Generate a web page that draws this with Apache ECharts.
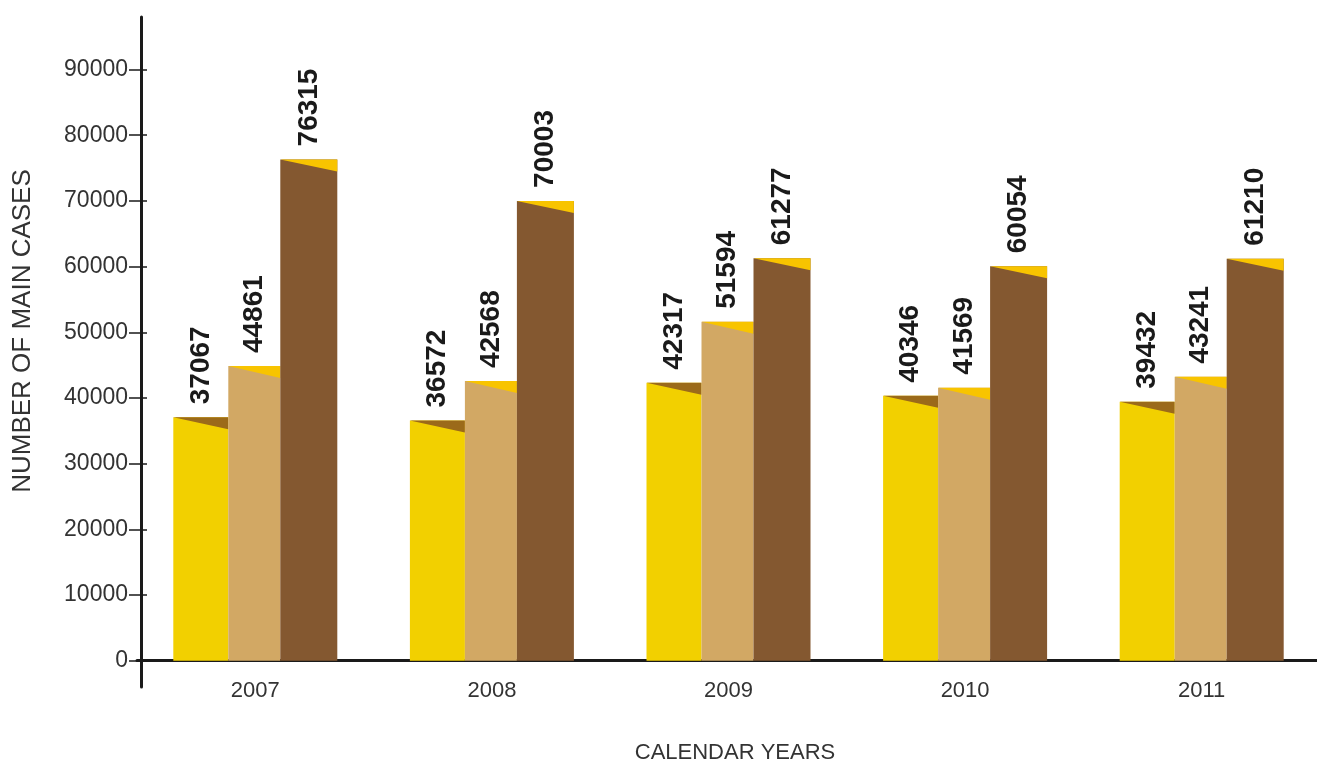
<!DOCTYPE html>
<html><head><meta charset="utf-8">
<script src="https://cdn.jsdelivr.net/npm/echarts@6/dist/echarts.min.js"></script>
<style>html,body{margin:0;padding:0;background:#fff}#c{width:1317px;height:763px}</style>
</head><body><div id="c"></div>
<script>
const years = ['2007', '2008', '2009', '2010', '2011'];
const seriesA = [37067, 36572, 42317, 40346, 39432];
const seriesB = [44861, 42568, 51594, 41569, 43241];
const seriesC = [76315, 70003, 61277, 60054, 61210];
const yTicks = [0, 10000, 20000, 30000, 40000, 50000, 60000, 70000, 80000, 90000];

const FONT = '"Liberation Sans", Arial, Helvetica, sans-serif';

function makeRender(x0, x1, body, accent) {
  return function (params, api) {
    const c = api.coord([api.value(0), api.value(1)]);
    const base = api.coord([api.value(0), 0]);
    const left = c[0] + x0, right = c[0] + x1, top = c[1];
    return {
      type: 'group',
      children: [
        { type: 'rect', shape: { x: left, y: top, width: right - left, height: base[1] - top }, style: { fill: body } },
        { type: 'polygon', shape: { points: [[left, top], [right, top], [right, top + 12]] }, style: { fill: accent } },
        { type: 'text', x: (left + right) / 2, y: top - 13, rotation: Math.PI / 2,
          style: { text: String(api.value(1)), font: 'bold 28px ' + FONT, fill: '#1a1a1a', align: 'left', verticalAlign: 'middle' } }
      ]
    };
  };
}
function toData(arr) { return arr.map((v, i) => [i, v]); }

const chart = echarts.init(document.getElementById('c'));
chart.setOption({
  animation: false,
  backgroundColor: '#ffffff',
  grid: { left: 137, right: -3, top: 17, bottom: 76, containLabel: false, outerBoundsMode: 'none' },
  xAxis: {
    type: 'category', data: years,
    axisLine: { onZero: true, lineStyle: { color: '#1a1a1a', width: 3 } },
    axisTick: { show: false },
    axisLabel: { fontSize: 22, fontFamily: FONT, color: '#333', margin: -7 },
    splitLine: { show: false }
  },
  yAxis: [{
    type: 'value', min: -4000, max: 98000, offset: -4,
    axisLine: { show: true, lineStyle: { color: '#1a1a1a', width: 3 } },
    axisTick: { show: true, customValues: yTicks, length: 12, lineStyle: { color: '#1a1a1a', width: 1.5 } },
    axisLabel: { customValues: yTicks, formatter: v => String(v), fontSize: 23, fontFamily: FONT, color: '#333', margin: 13 },
    splitLine: { show: false }
  }, {
    type: 'value', min: -4000, max: 98000, offset: -4, position: 'left',
    axisLine: { show: false },
    axisTick: { show: true, inside: true, customValues: yTicks, length: 6, lineStyle: { color: '#1a1a1a', width: 1.5 } },
    axisLabel: { show: false },
    splitLine: { show: false }
  }],
  graphic: [
    { type: 'text', x: 23, y: 331, rotation: Math.PI / 2,
      style: { text: 'NUMBER OF MAIN CASES', font: '26px ' + FONT, fill: '#333', align: 'center', verticalAlign: 'middle' } },
    { type: 'text', x: 735, y: 753,
      style: { text: 'CALENDAR YEARS', font: '22px ' + FONT, fill: '#333', align: 'center', verticalAlign: 'middle' } }
  ],
  series: [
    { type: 'custom', name: 'A', data: toData(seriesA), encode: { x: 0, y: 1 }, renderItem: makeRender(-82, -27, '#F2D000', '#9B6A1A') },
    { type: 'custom', name: 'B', data: toData(seriesB), encode: { x: 0, y: 1 }, renderItem: makeRender(-27, 25, '#D2A864', '#F8C400') },
    { type: 'custom', name: 'C', data: toData(seriesC), encode: { x: 0, y: 1 }, renderItem: makeRender(25, 82, '#845830', '#F8C400') }
  ]
});
</script></body></html>
